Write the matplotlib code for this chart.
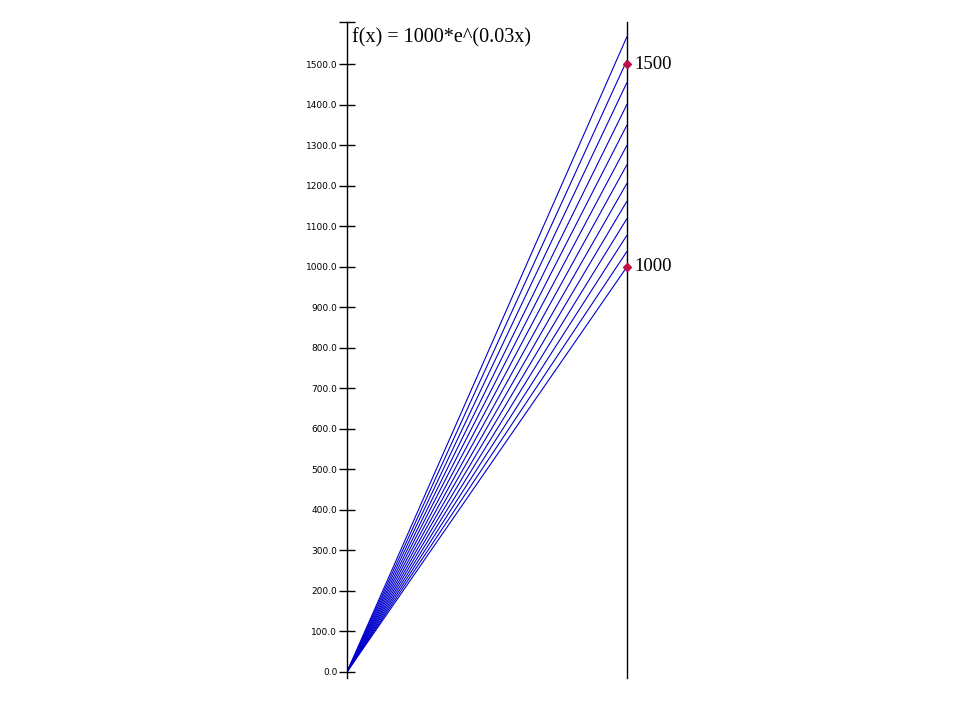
"""Secant lines from the origin up to f(x) = 1000*e^(0.03x) on a right-hand axis."""

import matplotlib

matplotlib.use("Agg")
import matplotlib.pyplot as plt

# Values
end_values = [1000, 1038, 1078, 1119, 1162, 1206, 1252, 1300, 1350, 1401, 1455, 1510, 1568]
marker_values = [1500, 1000]
marker_labels = ["1500", "1000"]
tick_values = [0, 100, 200, 300, 400, 500, 600, 700, 800, 900, 1000, 1100, 1200, 1300, 1400, 1500]
title = "f(x) = 1000*e^(0.03x)"

fig = plt.figure(figsize=(9.6, 7.2), dpi=100)
ax = fig.add_axes([347 / 960, 1 - 678 / 720, 280 / 960, 656 / 720])
ax.set_xlim(0, 1)
ax.set_ylim(-15, 1604)

for v in end_values:
    ax.plot([0, 1], [0, v], color="#0000cc", lw=0.8, solid_capstyle="butt")

ax.axvline(1, color="black", lw=1.0, clip_on=False)

ax.plot([1] * len(marker_values), marker_values, ls="none", marker="D",
        ms=4.5, color="#c0104a", clip_on=False, zorder=5)
for v, lab in zip(marker_values, marker_labels):
    ax.annotate(lab, (1, v), xytext=(5, 0), textcoords="offset points",
                va="center", ha="left", fontsize=13.5, family="Liberation Serif")

ax.text(0.018, 1564, title, fontsize=14.5, family="Liberation Serif",
        va="center", ha="left")

for s in ["top", "right", "bottom"]:
    ax.spines[s].set_visible(False)
ax.spines["left"].set_linewidth(1.0)
ax.set_xticks([])
ax.set_yticks(tick_values)
ax.set_yticklabels([f"{t:.1f}" for t in tick_values])
ax.set_yticks([1604], minor=True)
ax.tick_params(axis="y", which="both", direction="inout", length=12, width=1.0,
               labelsize=6.5, pad=1)

fig.savefig("out.png", dpi=100)
